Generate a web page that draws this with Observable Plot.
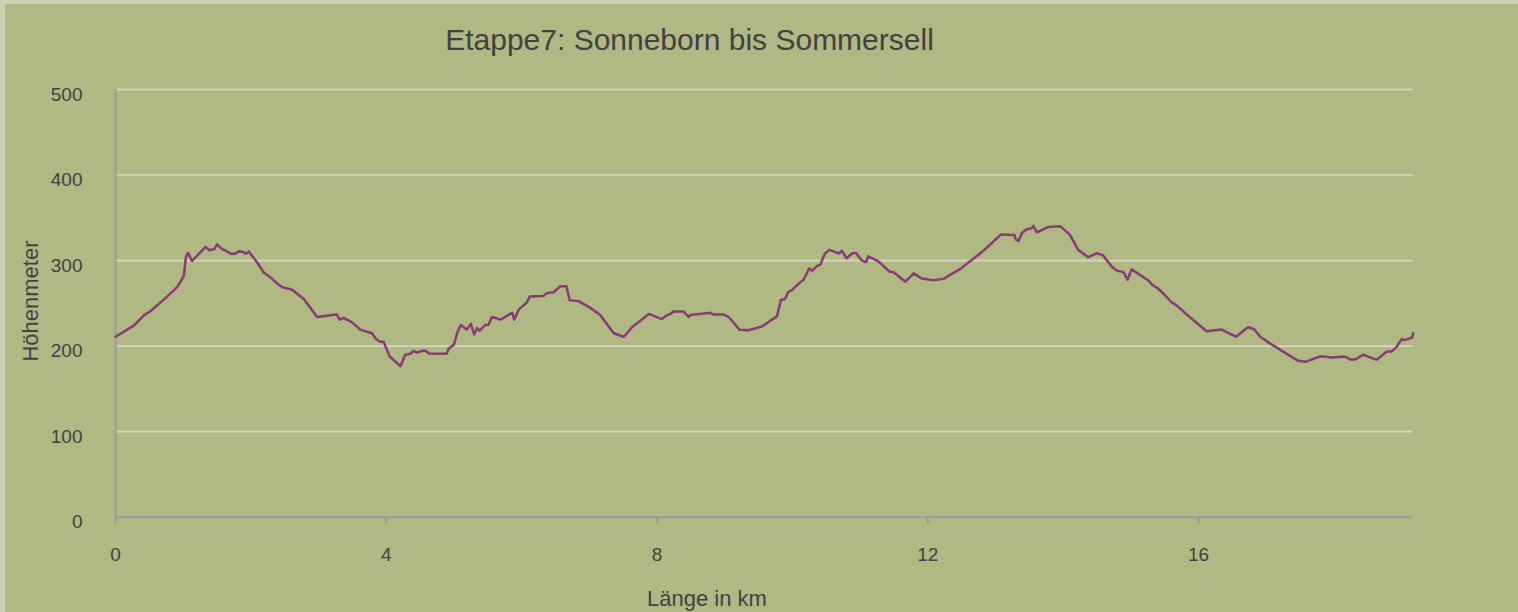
<!DOCTYPE html>
<html>
<head>
<meta charset="utf-8">
<script src="https://cdn.jsdelivr.net/npm/d3@7"></script>
<script src="https://cdn.jsdelivr.net/npm/@observablehq/plot@0.6"></script>
<style>
  html, body { margin: 0; padding: 0; }
  #wrap { position: relative; width: 1518px; height: 612px; background: #cdd1b0; overflow: hidden; font-family: "Liberation Sans", Arial, sans-serif; color: #424242; }
  #chart { position: absolute; left: 5px; top: 4px; width: 1513px; height: 608px; background: #b0b884; }
  .lbl { position: absolute; white-space: nowrap; }
  #title { left: 0; width: 1379px; top: 25px; text-align: center; font-size: 30px; line-height: 30px; }
  #xlab { left: 0; width: 1414px; top: 588px; text-align: center; font-size: 22px; line-height: 22px; }
  #ylab { left: 31px; top: 301px; font-size: 22px; line-height: 22px; transform: translate(-50%, -50%) rotate(-90deg); }
</style>
</head>
<body>
<div id="wrap">
  <div id="chart"></div>
  <div class="lbl" id="title">Etappe7: Sonneborn bis Sommersell</div>
  <div class="lbl" id="ylab">Höhenmeter</div>
  <div class="lbl" id="xlab">Länge in km</div>
</div>
<script>
const km = [0, 0.27, 0.42, 0.52, 0.71, 0.91, 1.01, 1.04, 1.07, 1.13, 1.33, 1.39, 1.46, 1.50, 1.58, 1.62, 1.70, 1.77, 1.82, 1.89, 1.92, 1.97, 2.09, 2.19, 2.31, 2.39, 2.46, 2.61, 2.78, 2.98, 3.27, 3.31, 3.37, 3.49, 3.62, 3.79, 3.84, 3.91, 3.96, 4.05, 4.21, 4.28, 4.36, 4.40, 4.45, 4.53, 4.58, 4.63, 4.89, 4.92, 5.00, 5.05, 5.10, 5.19, 5.25, 5.30, 5.34, 5.38, 5.46, 5.51, 5.56, 5.69, 5.86, 5.89, 5.96, 6.08, 6.12, 6.32, 6.37, 6.47, 6.57, 6.66, 6.71, 6.84, 7.01, 7.16, 7.36, 7.51, 7.63, 7.88, 8.07, 8.15, 8.20, 8.24, 8.39, 8.47, 8.49, 8.79, 8.83, 8.98, 9.06, 9.22, 9.35, 9.55, 9.77, 9.83, 9.89, 9.94, 9.99, 10.12, 10.16, 10.25, 10.29, 10.36, 10.41, 10.48, 10.55, 10.68, 10.73, 10.80, 10.88, 10.94, 11.02, 11.09, 11.12, 11.25, 11.32, 11.35, 11.44, 11.49, 11.67, 11.79, 11.91, 12.08, 12.23, 12.48, 12.82, 13.08, 13.28, 13.30, 13.34, 13.39, 13.46, 13.53, 13.56, 13.61, 13.78, 13.96, 14.10, 14.22, 14.37, 14.50, 14.59, 14.72, 14.79, 14.89, 14.95, 15.01, 15.26, 15.31, 15.39, 15.46, 15.60, 15.68, 15.87, 16.12, 16.34, 16.55, 16.73, 16.82, 16.91, 17.10, 17.47, 17.58, 17.80, 17.97, 18.16, 18.26, 18.33, 18.43, 18.63, 18.78, 18.85, 18.92, 19.00, 19.04, 19.15, 19.17];
const hoehe = [211, 224, 236, 241, 254, 269, 282, 304, 309, 299.5, 316, 312, 313.5, 319, 313, 312, 308, 308, 311, 310, 308, 310.5, 298, 286, 279, 273, 269, 266, 255, 234, 237, 231, 233, 228, 219, 215, 209, 205, 205, 188, 176.5, 190, 191, 194.5, 192.5, 194.5, 194.5, 191.5, 191, 197, 202, 216, 224.7, 219.5, 226, 213.5, 221, 218, 224.7, 224.7, 234, 231, 239, 231, 243, 251.5, 258, 258.5, 261.7, 263, 270, 270, 253.5, 252.6, 245, 236.5, 215, 211, 222, 237.6, 231.6, 236.5, 237.6, 240.5, 240.5, 234, 236.5, 239, 237, 237, 234, 219, 218.5, 223, 234.8, 254, 255, 263.5, 265.5, 275, 277, 291, 288, 293.6, 295, 308.4, 312.6, 308.4, 311.5, 302.5, 308.4, 309, 300.5, 298, 305, 300, 295.6, 293, 287, 286.7, 275.3, 285, 279, 277, 278.6, 290.3, 311.4, 330.5, 330, 324.7, 323, 332.3, 336.6, 337.4, 340.5, 333, 339.3, 340, 330, 312.5, 304, 308.6, 306, 292.4, 288.5, 286.5, 277.6, 289.7, 276.8, 272, 268, 263, 251.3, 247.4, 233.7, 217.4, 219.4, 211, 222, 219.7, 211, 200.8, 182.8, 181.6, 188.2, 186.7, 187.8, 184, 185, 190, 184, 193.8, 193.8, 198.5, 208.3, 207, 210, 215];
const xTicks = [0, 4, 8, 12, 16];
const yTicks = [0, 100, 200, 300, 400, 500];
const gridTicks = [100, 200, 300, 400, 500];

const data = km.map((k, i) => ({km: k, h: hoehe[i]}));

const chart = Plot.plot({
  width: 1513,
  height: 608,
  marginLeft: 110,
  marginRight: 105.3,
  marginTop: 85,
  marginBottom: 95.3,
  style: {background: "transparent", fontFamily: "'Liberation Sans', Arial, sans-serif", fontSize: "19px", color: "#424242", overflow: "visible"},
  x: {domain: [0, 19.17], label: null},
  y: {domain: [0, 500], label: null},
  marks: [
    Plot.ruleY(gridTicks, {stroke: "#d6d9c2", strokeWidth: 1.6}),
    Plot.ruleX([0], {stroke: "#9a9a9a", strokeWidth: 2}),
    Plot.ruleY([0], {stroke: "#9a9a9a", strokeWidth: 2}),
    Plot.axisY({ticks: yTicks, tickSize: 0, tickPadding: 33, dy: 5, fill: "#424242", label: null, fontSize: 19}),
    Plot.axisX({ticks: xTicks, tickSize: 7, tickPadding: 23, stroke: "#9a9a9a", strokeWidth: 2, fill: "#424242", label: null, fontSize: 19}),
    Plot.line(data, {x: "km", y: "h", stroke: "#873c73", strokeWidth: 2.5, strokeLinejoin: "round"})
  ]
});
document.getElementById("chart").appendChild(chart);
</script>
</body>
</html>
